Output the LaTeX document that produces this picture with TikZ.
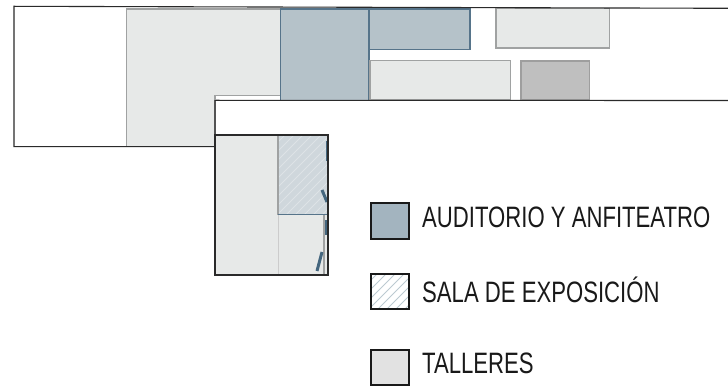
\documentclass[tikz,border=0pt]{standalone}
\usepackage{fontspec}
\setmainfont[FakeStretch=0.75]{Liberation Sans}
\definecolor{audit}{HTML}{B5C2C9}
\definecolor{auditleg}{HTML}{A3B4BF}
\definecolor{taller}{HTML}{E7E9E8}
\definecolor{tallerleg}{HTML}{E2E2E2}
\definecolor{blueedge}{HTML}{56748A}
\definecolor{door}{HTML}{44667E}
\definecolor{edge}{HTML}{A0A2A2}
\definecolor{outline}{HTML}{2A2A2A}
\definecolor{hatchbg}{HTML}{CFD7DC}
\definecolor{hatchline}{HTML}{DDE3E6}
\definecolor{leghatch}{HTML}{BCC9D1}
\tikzset{
  wall/.style={draw=outline,line width=1.1pt},
  tallerbox/.style={fill=taller,draw=edge,line width=1.1pt},
  auditbox/.style={fill=audit,draw=blueedge,line width=1.2pt},
  darkbox/.style={fill=black!25,draw=black!38,line width=1.4pt},
  doorbar/.style={draw=door,line width=3pt},
  legbox/.style={draw=black!90,line width=1.6pt},
  legtext/.style={anchor=base west,inner sep=0pt,font=\fontsize{29.5}{31}\selectfont,text=black!90}
}
\begin{document}
\begin{tikzpicture}[x=1pt,y=-1pt]
\useasboundingbox (0,0) rectangle (728,390);
% plan fills
\path[tallerbox] (126.5,9) -- (280.5,9) -- (280.5,95.5) -- (215,95.5) -- (215,146.7) -- (126.5,146.7) -- cycle;
\path[auditbox] (280.5,9) rectangle (369,100.5);
\path[auditbox] (369,9) rectangle (470,49.5);
\path[tallerbox] (496,8.5) rectangle (609.5,48);
\path[tallerbox] (370,60.5) rectangle (510.5,100);
\path[darkbox] (521,61) rectangle (589.5,100);
% lower block
\fill[taller] (215,135) rectangle (328,275);
\draw[black!20,line width=0.7pt] (278,215) -- (278,275);
\fill[hatchbg] (278,135.5) rectangle (328,215);
\begin{scope}
  \clip (278,135.5) rectangle (328,215);
  \foreach \k in {-81,-72,...,63}
    \draw[hatchline,line width=0.8pt] (270+\k,222) -- (270+\k+90,132);
\end{scope}
\draw[edge,line width=1.2pt] (278,135.5) -- (278,215);
\draw[blueedge,line width=1pt] (278,215) -- (328,215);
\draw[edge,line width=1.4pt] (324,215) -- (324,276);
% door bars
\draw[doorbar] (327,141) -- (327,161);
\draw[doorbar] (322,190) -- (327,202);
\draw[doorbar] (326,220) -- (326,235);
\draw[doorbar] (322,252) -- (317,271);
% walls
\draw[wall] (215,135) rectangle (328,275);
\draw[wall] (728,8.3) -- (14,6.3) -- (14,146.7) -- (215,146.7);
\draw[wall] (215,135) -- (215,100.3) -- (728,100.5);
\draw[draw=edge,line width=1.1pt] (215,100) -- (215,95.5);
% legend
\node[legbox,fill=auditleg,minimum width=38pt,minimum height=36pt,inner sep=0pt,anchor=north west] (la) at (370,202) {};
\begin{scope}
  \clip (370,273) rectangle (408,308);
  \foreach \k in {-36,-27,...,45}
    \draw[leghatch,line width=1pt] (362+\k,316) -- (362+\k+43,273);
\end{scope}
\node[legbox,minimum width=38pt,minimum height=35pt,inner sep=0pt,anchor=north west] (lb) at (370,273) {};
\node[legbox,fill=tallerleg,minimum width=38pt,minimum height=35pt,inner sep=0pt,anchor=north west] (lc) at (370,349) {};
\node[legtext] (ta) at (422,227) {AUDITORIO Y ANFITEATRO};
\node[legtext] (tb) at (422,302) {SALA DE EXPOSICIÓN};
\node[legtext] (tc) at (422,373) {TALLERES};
\end{tikzpicture}
\end{document}
